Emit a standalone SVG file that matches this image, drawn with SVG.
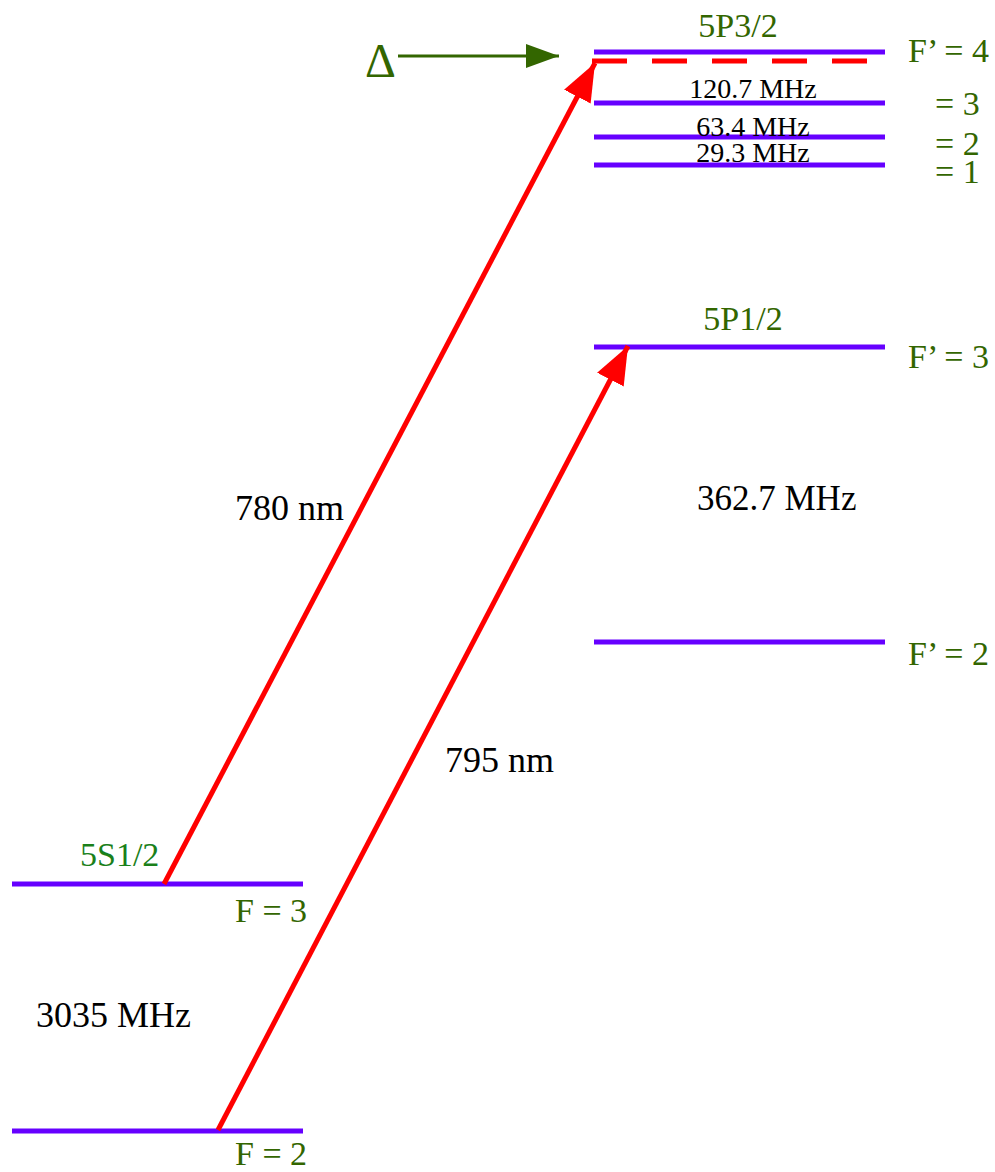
<svg xmlns="http://www.w3.org/2000/svg" width="995" height="1172" viewBox="0 0 995 1172">
<style>
text{font-family:"Liberation Serif","Times New Roman",serif}
.lvl{stroke:#6600ff;stroke-width:5;fill:none}
.g{fill:#336600;font-size:34px}
.gs{fill:#1a801a;font-size:34px}
.k{fill:#000;font-size:36px}
.ks{fill:#000;font-size:28px;text-anchor:middle}
.red{stroke:#ff0000;stroke-width:5;fill:none}
</style>
<defs>
<marker id="ah" markerUnits="userSpaceOnUse" markerWidth="40" markerHeight="32" refX="38" refY="15" orient="auto">
<path d="M0,0 L38,15 L0,30 Z" fill="#ff0000"/>
</marker>
<marker id="gh" markerUnits="userSpaceOnUse" markerWidth="34" markerHeight="26" refX="33" refY="12" orient="auto">
<path d="M0,0 L33,12 L0,24 Z" fill="#336600"/>
</marker>
</defs>
<g id="p32">
<line class="lvl" x1="594" y1="52" x2="885" y2="52"/>
<line class="lvl" x1="594" y1="103" x2="885" y2="103"/>
<line class="lvl" x1="594" y1="137" x2="885" y2="137"/>
<line class="lvl" x1="594" y1="165" x2="885" y2="165"/>
<line x1="592" y1="61" x2="868" y2="61" stroke="#ff0000" stroke-width="5" stroke-dasharray="35 25"/>
<text class="g" x="738" y="37" text-anchor="middle">5P3/2</text>
<text class="g" x="908" y="62">F’ = 4</text>
<text class="g" x="935" y="115">= 3</text>
<text class="g" x="935" y="155">= 2</text>
<text class="g" x="935" y="183">= 1</text>
<text class="ks" x="753" y="98">120.7 MHz</text>
<text class="ks" x="753" y="136">63.4 MHz</text>
<text class="ks" x="753" y="162">29.3 MHz</text>
</g>
<g id="p12">
<line class="lvl" x1="594" y1="347" x2="885" y2="347"/>
<line class="lvl" x1="594" y1="642" x2="885" y2="642"/>
<text class="g" x="743" y="330" text-anchor="middle">5P1/2</text>
<text class="g" x="908" y="368">F’ = 3</text>
<text class="g" x="908" y="665">F’ = 2</text>
<text class="k" x="697" y="510" style="font-size:35px">362.7 MHz</text>
</g>
<g id="s12">
<line class="lvl" x1="12" y1="884" x2="303" y2="884"/>
<line class="lvl" x1="12" y1="1131" x2="303" y2="1131"/>
<text class="gs" x="80" y="866">5S1/2</text>
<text class="g" x="235" y="922">F = 3</text>
<text class="g" x="235" y="1165">F = 2</text>
<text class="k" x="36" y="1027">3035 MHz</text>
</g>
<g id="connectors">
<line class="red" x1="164" y1="884" x2="595" y2="63" marker-end="url(#ah)"/>
<line class="red" x1="218" y1="1130" x2="628" y2="346" marker-end="url(#ah)"/>
<line x1="398" y1="56" x2="559" y2="56" stroke="#336600" stroke-width="3" marker-end="url(#gh)"/>
</g>
<g id="labels">
<text class="k" x="235" y="520">780 nm</text>
<text class="k" x="445" y="772">795 nm</text>
<text x="365" y="77" fill="#336600" style="font-size:48px">Δ</text>
</g>
</svg>
